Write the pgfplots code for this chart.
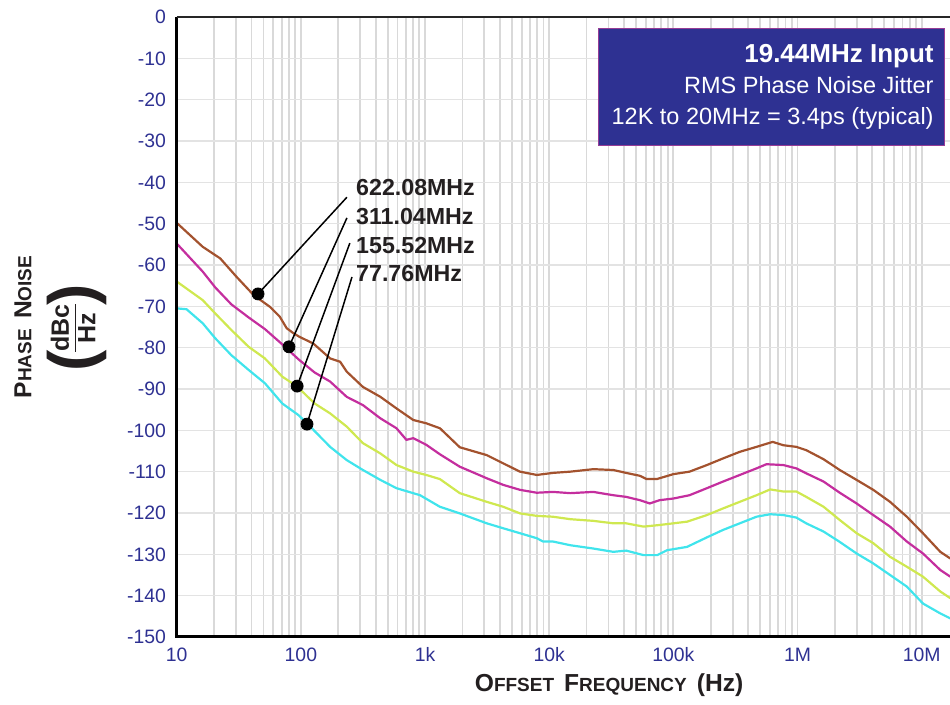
\documentclass[border=0pt]{standalone}
\usepackage{fontspec}
\setmainfont{Liberation Sans}
\usepackage{pgfplots}
\pgfplotsset{compat=1.18}

\definecolor{tickblue}{RGB}{46,49,146}
\definecolor{boxblue}{RGB}{46,49,146}
\definecolor{boxedge}{RGB}{150,60,150}
\definecolor{txtgray}{RGB}{35,31,32}
\definecolor{cbrown}{RGB}{163,82,46}
\definecolor{cmagenta}{RGB}{196,46,158}
\definecolor{cyellow}{RGB}{207,232,80}
\definecolor{ccyan}{RGB}{64,228,236}

\newcommand{\bigc}[1]{{\fontsize{12.3}{13}\selectfont #1}}
\newcommand{\smc}[1]{{\fontsize{9.5}{10}\selectfont #1}}

\begin{document}
\begin{tikzpicture}
\begin{axis}[
  at={(0,0)}, anchor=south west,
  scale only axis, width=386.65pt, height=310pt,
  xmode=log, xmin=10, xmax=1.69e7,
  ymin=-150, ymax=0,
  xtick={10,100,1000,10000,100000,1000000,10000000},
  xticklabels={10,100,1k,10k,100k,1M,10M},
  minor xtick={20,30,40,50,60,70,80,90,
    200,300,400,500,600,700,800,900,
    2000,3000,4000,5000,6000,7000,8000,9000,
    20000,30000,40000,50000,60000,70000,80000,90000,
    200000,300000,400000,500000,600000,700000,800000,900000,
    2000000,3000000,4000000,5000000,6000000,7000000,8000000,9000000},
  ytick={-150,-140,...,0},
  xmajorgrids, xminorgrids, ymajorgrids,
  major x grid style={black!15, line width=0.9pt},
  minor x grid style={black!15, line width=0.9pt},
  major y grid style={black!11, line width=0.8pt},
  major tick length=0pt, minor tick length=0pt,
  axis line style={draw=none},
  clip mode=individual,
  ticklabel style={font=\fontsize{9.7}{10}\selectfont, text=tickblue},
  /pgf/number format/assume math mode=true,
  yticklabel style={xshift=-1.8pt},
  xticklabel style={yshift=-1.8pt},
]

% 622.08MHz
\addplot[cbrown, line width=1.1pt] coordinates {
(10,-49.8) (16.2,-55.6) (22.4,-58.4) (30.2,-62.8) (41.7,-67.3) (56.2,-70.1)
(67.6,-72.5) (76.9,-75.3) (87.1,-76.5) (97.7,-77.4) (126,-79.0) (172,-82.6)
(207,-83.4) (234,-85.8) (316,-89.5) (437,-91.9) (589,-94.7) (804,-97.5)
(1023,-98.3) (1318,-99.5) (1905,-104.1) (3141,-106.0) (4266,-108.0)
(5821,-110.0) (7943,-110.8) (10715,-110.3) (14791,-110.0) (22646,-109.4)
(32810,-109.6) (41687,-110.3) (53703,-111.0) (60954,-111.8) (73451,-111.8)
(100000,-110.6) (134896,-110.0) (186209,-108.4) (251189,-106.8)
(342768,-105.2) (467735,-104.0) (630957,-102.8) (767361,-103.6)
(977237,-104.0) (1174898,-104.8) (1621810,-107.0) (2187762,-109.6)
(2992265,-112.0) (4073803,-114.4) (5559043,-117.3) (7585776,-120.9)
(10232930,-124.9) (14125375,-129.4) (16982437,-131.0)
};

% 311.04MHz
\addplot[cmagenta, line width=1.1pt] coordinates {
(10,-54.8) (16.2,-61.6) (20.4,-65.4) (27.5,-69.5) (38,-72.7) (51.3,-75.5)
(70.8,-79.2) (95.5,-82.8) (129,-86.0) (172,-88.2) (234,-91.9) (316,-93.9)
(437,-97.1) (589,-99.5) (708,-102.3) (804,-101.9) (1023,-103.5)
(1318,-105.8) (1905,-108.8) (3141,-111.6) (4266,-113.2) (5821,-114.4)
(7943,-115.1) (10715,-114.9) (14791,-115.2) (22646,-114.9) (32810,-115.7)
(41687,-116.1) (53703,-116.9) (64565,-117.7) (77625,-116.9) (100000,-116.5)
(134896,-115.7) (186209,-114.0) (251189,-112.4) (342768,-110.8)
(467735,-109.2) (562341,-108.2) (767361,-108.4) (977237,-109.2)
(1174898,-110.4) (1621810,-112.4) (2187762,-115.1) (2992265,-117.7)
(4073803,-120.5) (5559043,-123.3) (7585776,-126.9) (10232930,-129.8)
(14125375,-133.8) (16982437,-135.4)
};

% 155.52MHz
\addplot[cyellow, line width=1.1pt] coordinates {
(10,-64.0) (16.2,-68.5) (20.4,-71.7) (27.5,-75.7) (38,-79.8) (51.3,-82.6)
(70.8,-87.0) (93.3,-89.4) (129,-93.5) (172,-95.9) (234,-99.1) (316,-103.1)
(437,-105.6) (589,-108.4) (804,-110.0) (1023,-110.8) (1318,-111.8)
(1905,-115.2) (3141,-117.3) (4266,-118.5) (5821,-120.1) (7943,-120.7)
(10715,-120.9) (14791,-121.5) (22646,-121.9) (32810,-122.5) (41687,-122.5)
(57544,-123.3) (77625,-122.9) (100000,-122.5) (128825,-122.1)
(186209,-120.5) (251189,-118.9) (342768,-117.3) (467735,-115.7)
(602560,-114.3) (767361,-114.8) (977237,-114.8) (1174898,-116.1)
(1621810,-118.5) (2187762,-121.7) (2992265,-124.9) (4073803,-127.3)
(5559043,-130.6) (7585776,-133.0) (10232930,-135.4) (14125375,-139.0)
(16982437,-140.6)
};

% 77.76MHz
\addplot[ccyan, line width=1.1pt] coordinates {
(10,-70.5) (12,-70.7) (16.2,-74.1) (20.4,-77.7) (27.5,-81.8) (38,-85.4)
(51.3,-88.6) (70.8,-93.5) (95.5,-96.3) (112,-98.3) (172,-104.0)
(234,-107.2) (316,-109.6) (437,-112.0) (589,-114.0) (912,-115.7)
(1318,-118.5) (1905,-120.1) (3141,-122.5) (4266,-123.7) (5821,-124.9)
(7943,-126.1) (8913,-126.9) (10715,-126.9) (14791,-127.8) (22646,-128.6)
(32810,-129.4) (41687,-129.1) (57544,-130.2) (74131,-130.2) (89125,-129.0)
(128825,-128.2) (186209,-125.9) (251189,-124.1) (342768,-122.5)
(467735,-120.9) (602560,-120.3) (767361,-120.5) (977237,-121.1)
(1174898,-122.5) (1621810,-124.5) (2187762,-127.0) (2992265,-129.8)
(4073803,-132.2) (5559043,-135.0) (7585776,-137.8) (10232930,-141.9)
(14125375,-144.3) (16982437,-145.5)
};

% leader lines
\draw[black, line width=0.75pt] (axis cs:45.2,-67.0) -- (axis cs:235,-43.6);
\draw[black, line width=0.75pt] (axis cs:80.2,-79.8) -- (axis cs:235,-48.6);
\draw[black, line width=0.75pt] (axis cs:93.3,-89.3) -- (axis cs:248,-54.7);
\draw[black, line width=0.75pt] (axis cs:112,-98.5) -- (axis cs:258,-62.9);
\addplot[only marks, mark=*, mark size=3pt, black] coordinates {
(45.2,-67.0) (80.2,-79.8) (93.3,-89.3) (112,-98.5)
};

\begin{scope}[every node/.style={anchor=base west, inner sep=0pt, text=txtgray,
    font=\bfseries\fontsize{11.6}{12}\selectfont}]
\node at (axis cs:277,-43.1) {622.08MHz};
\node at (axis cs:277,-50.1) {311.04MHz};
\node at (axis cs:277,-57.1) {155.52MHz};
\node at (axis cs:277,-64.1) {77.76MHz};
\end{scope}

% info box
\fill[boxblue, draw=boxedge, line width=0.5pt]
  (axis cs:24730,-2.9) rectangle (axis cs:1.538e7,-31.2);
\node[anchor=base east, inner sep=0pt, text=white,
  font=\bfseries\fontsize{13}{14}\selectfont] at (axis cs:1.256e7,-11.1) {19.44MHz Input};
\node[anchor=base east, inner sep=0pt, text=white,
  font=\fontsize{11.75}{12}\selectfont] at (axis cs:1.256e7,-18.6) {RMS Phase Noise Jitter};
\node[anchor=base east, inner sep=0pt, text=white,
  font=\fontsize{11.75}{12}\selectfont] at (axis cs:1.256e7,-25.9) {12K to 20MHz = 3.4ps (typical)};

% frame: left, bottom, top
\draw[black, line width=1.5pt] (rel axis cs:0,1) -- (rel axis cs:0,0) -- (rel axis cs:1,0);
\draw[black!85, line width=1.1pt] (rel axis cs:0,1) -- (rel axis cs:1,1);
\end{axis}

% axis titles
\node[rotate=90, inner sep=0pt, text=txtgray, font=\bfseries] at (-76.9pt,155pt)
  {\bigc{P}\smc{HASE}\hspace{5pt}\bigc{N}\smc{OISE}};
\node[rotate=90, inner sep=0pt, text=txtgray, font=\bfseries\fontsize{32}{32}\selectfont]
  at (-49.9pt,138pt) {(};
\node[rotate=90, inner sep=0pt, text=txtgray, font=\bfseries\fontsize{32}{32}\selectfont]
  at (-49.9pt,171pt) {)};
\node[rotate=90, inner sep=0pt, text=txtgray, font=\bfseries\fontsize{12.5}{13}\selectfont]
  at (-49.9pt,154.5pt)
  {\begin{tabular}{@{}c@{}}dBc\\[-1pt]\hline\rule{0pt}{10pt}Hz\end{tabular}};
\node[inner sep=0pt, text=txtgray, font=\bfseries] at (216.2pt,-24pt)
  {\bigc{O}\smc{FFSET}\hspace{5pt}\bigc{F}\smc{REQUENCY}\hspace{5pt}\bigc{(Hz)}};

\pgfresetboundingbox
\path (-88.35pt,-34pt) rectangle (386.65pt,318.5pt);
\end{tikzpicture}
\end{document}
